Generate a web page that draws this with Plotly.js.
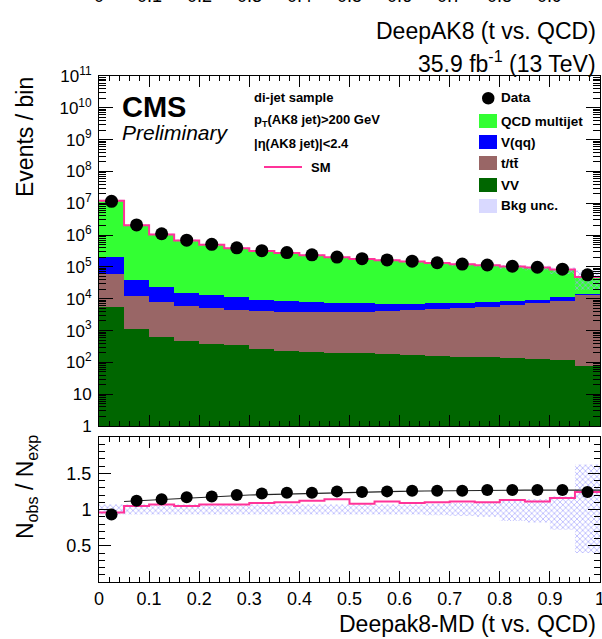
<!DOCTYPE html>
<html><head><meta charset="utf-8">
<script src="https://cdn.plot.ly/plotly-3.0.1.min.js"></script>
<style>html,body{margin:0;padding:0;background:#fff;overflow:hidden}#chart{width:602px;height:639px}</style>
</head><body><div id="chart"></div>
<script>
// ---- data ----
const binEdges = [0,0.05,0.1,0.15,0.2,0.25,0.3,0.35,0.4,0.45,0.5,0.55,0.6,0.65,0.7,0.75,0.8,0.85,0.9,0.95,1.0];
const binCenters = [0.025,0.075,0.125,0.175,0.225,0.275,0.325,0.375,0.425,0.475,0.525,0.575,0.625,0.675,0.725,0.775,0.825,0.875,0.925,0.975];
const qcd   = [11810000,2003000,1024000,660600,488300,377800,306900,266900,226500,192100,170600,155300,140800,124400,112600,104300,94000,86200,72000,33400];
const vqq   = [148700,26300,15100,9600,7750,6750,5160,4620,4140,3610,3350,2750,2610,2630,2340,2320,2010,2090,2510,1270];
const ttbar = [54900,11500,7120,5420,4750,4130,3910,3660,3580,3600,3700,3990,4300,4630,5100,5480,6180,7120,8590,13100];
const vv    = [5370,1096,646,468,380,339,257,229,219,204,195,178,170,158,151,145,135,126,117,78];
const dataCounts = [11500000,2090000,1100000,692000,513000,398000,324000,282000,240000,204000,182000,166000,151000,135000,123000,115000,105000,97700,85100,56200];
const ratioData = [0.93,1.12,1.14,1.17,1.18,1.20,1.22,1.23,1.23,1.25,1.24,1.25,1.26,1.26,1.26,1.27,1.27,1.27,1.27,1.24];
const ratioSM   = [0.96,1.05,1.07,1.05,1.07,1.07,1.09,1.10,1.12,1.14,1.08,1.11,1.09,1.10,1.11,1.10,1.13,1.11,1.16,1.24];
const uncLow  = [0.93,0.93,0.93,0.93,0.93,0.93,0.93,0.93,0.93,0.93,0.93,0.93,0.93,0.92,0.91,0.90,0.84,0.82,0.72,0.40];
const uncHigh = [1.07,1.07,1.07,1.07,1.07,1.07,1.07,1.07,1.07,1.07,1.07,1.07,1.07,1.08,1.09,1.10,1.12,1.14,1.18,1.62];
const fitY = [1.11,1.13,1.15,1.17,1.185,1.20,1.21,1.22,1.23,1.24,1.245,1.25,1.255,1.26,1.262,1.265,1.267,1.268,1.268,1.268];
const xTickVals = [0,0.1,0.2,0.3,0.4,0.5,0.6,0.7,0.8,0.9,1];
const xTickText = ['0','0.1','0.2','0.3','0.4','0.5','0.6','0.7','0.8','0.9','1'];
const yTickVals = [1,10,1e2,1e3,1e4,1e5,1e6,1e7,1e8,1e9,1e10,1e11];
const yTickText = ['1','10','10<sup>2</sup>','10<sup>3</sup>','10<sup>4</sup>','10<sup>5</sup>','10<sup>6</sup>','10<sup>7</sup>','10<sup>8</sup>','10<sup>9</sup>','10<sup>10</sup>','10<sup>11</sup>'];
const rTickVals = [0.5,1,1.5];
const rTickText = ['0.5','1','1.5'];

// ---- helpers ----
const W=602,H=639,L=99,R=2,T=76,B=57;
const px = x => (x-L)/(W-L-R);
const py = y => (H-B-y)/(H-T-B);
const FONT = 'Liberation Sans, Arial, Helvetica, sans-serif';
const step = arr => arr.concat([arr[arr.length-1]]);

const totals = qcd.map((v,i)=>v+vqq[i]+ttbar[i]+vv[i]);
const uncLoAbs = totals.map((t,i)=>t*uncLow[i]);
const uncHiAbs = totals.map((t,i)=>t*uncHigh[i]);
const minorLog = [];
for (let e=0;e<11;e++) for (let m=2;m<=9;m++) minorLog.push(m*Math.pow(10,e));

const hatch = {shape:'x', fgcolor:'#a3a3ff', bgcolor:'rgba(0,0,0,0)', size:4, solidity:0.3};

const bar = (y,c,n)=>({type:'bar',x:binCenters,y:y,width:0.05,name:n,marker:{color:c,line:{width:0}},xaxis:'x',yaxis:'y',showlegend:false,hoverinfo:'skip'});

const traces = [
  bar(vv,'#006600','VV'),
  bar(ttbar,'#996666','t/tt'),
  bar(vqq,'#0000ff','V(qq)'),
  bar(qcd,'#33ff33','QCD multijet'),
  {type:'scatter',mode:'lines',x:binEdges,y:step(uncLoAbs),line:{width:0,shape:'hv'},xaxis:'x',yaxis:'y',showlegend:false,hoverinfo:'skip'},
  {type:'scatter',mode:'lines',x:binEdges,y:step(uncHiAbs),line:{width:0,shape:'hv'},fill:'tonexty',fillcolor:'rgba(0,0,0,0)',fillpattern:hatch,xaxis:'x',yaxis:'y',showlegend:false,hoverinfo:'skip'},
  {type:'scatter',mode:'lines',x:binEdges,y:step(totals),line:{color:'#ff3399',width:2,shape:'hv'},xaxis:'x',yaxis:'y',showlegend:false},
  {type:'scatter',mode:'markers',x:binCenters,y:dataCounts,marker:{color:'black',size:13},xaxis:'x',yaxis:'y',showlegend:false},
  // ratio
  {type:'scatter',mode:'lines',x:binEdges,y:step(uncLow),line:{width:0,shape:'hv'},xaxis:'x2',yaxis:'y2',showlegend:false,hoverinfo:'skip'},
  {type:'scatter',mode:'lines',x:binEdges,y:step(uncHigh),line:{width:0,shape:'hv'},fill:'tonexty',fillcolor:'rgba(0,0,0,0)',fillpattern:hatch,xaxis:'x2',yaxis:'y2',showlegend:false,hoverinfo:'skip'},
  {type:'scatter',mode:'lines',x:binEdges,y:step(ratioSM),line:{color:'#ff3399',width:2,shape:'hv'},xaxis:'x2',yaxis:'y2',showlegend:false},
  {type:'scatter',mode:'lines',x:binEdges.slice(1),y:fitY,line:{color:'#222',width:1.2},xaxis:'x2',yaxis:'y2',showlegend:false},
  {type:'scatter',mode:'markers',x:binCenters,y:ratioData,marker:{color:'black',size:12},xaxis:'x2',yaxis:'y2',showlegend:false}
];

const axBase = {showline:true,linecolor:'black',linewidth:1,mirror:'ticks',ticks:'inside',tickcolor:'black',tickwidth:1,showgrid:false,zeroline:false,
  tickfont:{family:FONT,size:18,color:'black'}};

const layout = {
  width:W,height:H,margin:{l:L,r:R,t:T,b:B,pad:0},
  paper_bgcolor:'white',plot_bgcolor:'white',
  barmode:'stack',bargap:0,showlegend:false,
  font:{family:FONT,color:'black'},
  xaxis:Object.assign({},axBase,{domain:[0,1],anchor:'y',range:[0,1],tickmode:'array',tickvals:xTickVals,showticklabels:false,ticklen:11,
    minor:{dtick:0.02,tick0:0,ticklen:5,ticks:'inside',tickcolor:'black'}}),
  xaxis2:Object.assign({},axBase,{domain:[0,1],anchor:'y2',range:[0,1],tickmode:'array',tickvals:xTickVals,ticktext:xTickText,ticklen:11,
    ticklabeloverflow:'allow',
    minor:{dtick:0.02,tick0:0,ticklen:5,ticks:'inside',tickcolor:'black'}}),
  yaxis:Object.assign({},axBase,{domain:[py(426),1],anchor:'x',type:'log',range:[0,11],tickmode:'array',tickvals:yTickVals,ticktext:yTickText,ticklen:14,
    tickfont:{family:FONT,size:17,color:'black'},ticklabelstandoff:3,
    minor:{tickmode:'array',tickvals:minorLog,ticklen:7,ticks:'inside',tickcolor:'black'}}),
  yaxis2:Object.assign({},axBase,{domain:[0,py(437)],anchor:'x2',range:[0,2],tickmode:'array',tickvals:rTickVals,ticktext:rTickText,ticklen:12,
    ticklabelstandoff:3,minor:{dtick:0.1,tick0:0,ticklen:6,ticks:'inside',tickcolor:'black'}}),
  shapes:[],annotations:[]
};

const ann = (text,x,y,opts)=>layout.annotations.push(Object.assign({text:text,x:px(x),y:py(y),xref:'paper',yref:'paper',showarrow:false,
  xanchor:'left',yanchor:'middle',font:{family:FONT,size:14,color:'black'}},opts||{}));

// top-right labels
ann('DeepAK8 (t vs. QCD)',598,31,{xanchor:'right',font:{family:FONT,size:23,color:'black'}});
ann('35.9 fb<sup>-1</sup> (13 TeV)',598,62,{xanchor:'right',font:{family:FONT,size:23,color:'black'}});
// cut-off labels of the panel above
xTickVals.slice(0,10).forEach((v,i)=>ann(xTickText[i],L+v*501,-4,{xanchor:'center',font:{family:FONT,size:18,color:'black'}}));
// axis titles
ann('Events / bin',25,137,{xanchor:'center',textangle:-90,font:{family:FONT,size:23,color:'black'}});
ann('N<sub>obs</sub> / N<sub>exp</sub>',26,487,{xanchor:'center',textangle:-90,font:{family:FONT,size:23,color:'black'}});
ann('Deepak8-MD (t vs. QCD)',598,624,{xanchor:'right',font:{family:FONT,size:23,color:'black'}});
// CMS label
ann('<b>CMS</b>',120,107,{font:{family:FONT,size:29,color:'black'}});
ann('<i>Preliminary</i>',120,132,{font:{family:FONT,size:21,color:'black'}});
// selection text
ann('<b>di-jet sample</b>',252,97,{font:{family:FONT,size:13,color:'black'}});
ann('<b>p<sub>T</sub>(AK8 jet)&gt;200 GeV</b>',252,120,{font:{family:FONT,size:13,color:'black'}});
ann('<b>|η(AK8 jet)|&lt;2.4</b>',252,143,{font:{family:FONT,size:13,color:'black'}});
layout.shapes.push({type:'line',xref:'paper',yref:'paper',x0:px(264),x1:px(302),y0:py(167),y1:py(167),line:{color:'#ff3399',width:2}});
ann('<b>SM</b>',309,167,{font:{family:FONT,size:13,color:'black'}});
// legend
layout.shapes.push({type:'circle',xref:'paper',yref:'paper',x0:px(482),x1:px(494.5),y0:py(92),y1:py(104.5),fillcolor:'black',line:{width:0}});
ann('<b>Data</b>',499,98,{font:{family:FONT,size:13.5,color:'black'}});
const legBoxes = [['#33ff33','QCD multijet',121],['#0000ff','V(qq)',142],['#996666','t/tt\u0304',163],['#006600','VV',185],['#d9d9ff','Bkg unc.',206]];
legBoxes.forEach(([c,t,y])=>{
  layout.shapes.push({type:'rect',xref:'paper',yref:'paper',x0:px(479),x1:px(497),y0:py(y-7),y1:py(y+7),fillcolor:c,line:{width:0}});
  ann('<b>'+t+'</b>',499,y,{font:{family:FONT,size:13.5,color:'black'}});
});

Plotly.newPlot('chart',traces,layout,{staticPlot:true,displayModeBar:false});
</script></body></html>
